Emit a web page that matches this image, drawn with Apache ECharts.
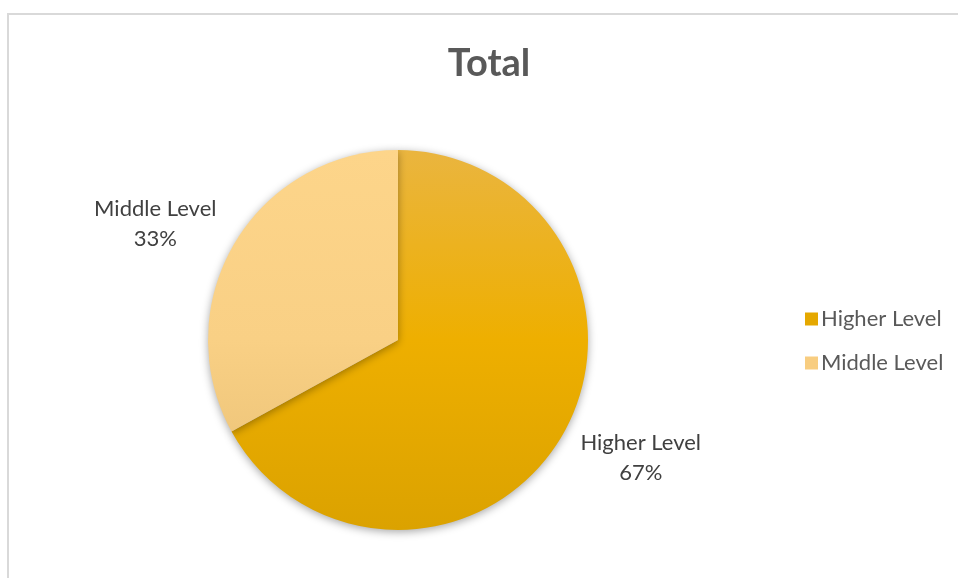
<!DOCTYPE html>
<html><head><meta charset="utf-8">
<script src="https://cdn.jsdelivr.net/npm/echarts@6/dist/echarts.min.js"></script>
<style>html,body{margin:0;padding:0;background:#fff}#c{width:958px;height:578px}</style>
</head><body><div id="c"></div>
<script>
const categories = ["Higher Level", "Middle Level"];
const values = [67, 33];
const titleText = "Total";

const cx = 398, cy = 340, r = 190, labelRx = 282, labelRy = 230;
const total = values.reduce((a, b) => a + b, 0);
const mids = [];
let acc = 0;
values.forEach(v => { mids.push((acc + v / 2) / total * 2 * Math.PI); acc += v; });

const grad = (c0, c1, c2) => new echarts.graphic.LinearGradient(0, cy - r, 0, cy + r, [
  { offset: 0, color: c0 }, { offset: 0.5, color: c1 }, { offset: 1, color: c2 }], true);
const colors = [grad('#EAB53F', '#EEAF00', '#DBA200'), grad('#FDD58A', '#F9D085', '#E7BE72')];
const legendColors = ['#E5A800', '#F8CD80'];

const chart = echarts.init(document.getElementById('c'));
chart.setOption({
  backgroundColor: '#fff',
  title: { text: titleText, left: 484, top: 40, textAlign: 'center',
    textStyle: { fontFamily: 'Lato', fontWeight: 'bold', fontSize: 38, color: '#595959' } },
  graphic: [{ type: 'rect', shape: { x: 8, y: 14, width: 1000, height: 1000 },
    style: { fill: 'none', stroke: '#d9d9d9', lineWidth: 2 }, silent: true, z: -1 }],
  legend: { orient: 'vertical', left: 800, top: 303, itemWidth: 13, itemHeight: 13, itemGap: 22, icon: 'rect',
    textStyle: { fontFamily: 'Lato', fontSize: 22, color: '#595959', padding: [0, 0, 0, -2] },
    data: categories.map((n, i) => ({ name: n, itemStyle: { color: legendColors[i] } })) },
  series: [{
    type: 'pie', center: [cx, cy], radius: r, startAngle: 90, clockwise: true,
    animation: false,
    itemStyle: { shadowBlur: 8, shadowColor: 'rgba(0,0,0,0.35)', shadowOffsetY: 2 },
    emphasis: { disabled: true },
    label: { show: true, formatter: '{b}\n{d}%', fontFamily: 'Lato', fontSize: 22, color: '#404040', lineHeight: 30, align: 'center' },
    labelLine: { show: false },
    labelLayout: (p) => ({ x: cx + labelRx * Math.sin(mids[p.dataIndex]), y: cy - labelRy * Math.cos(mids[p.dataIndex]) + 1,
      align: 'center', verticalAlign: 'middle' }),
    data: categories.map((n, i) => ({ name: n, value: values[i], itemStyle: { color: colors[i] } }))
  }]
});
</script></body></html>
